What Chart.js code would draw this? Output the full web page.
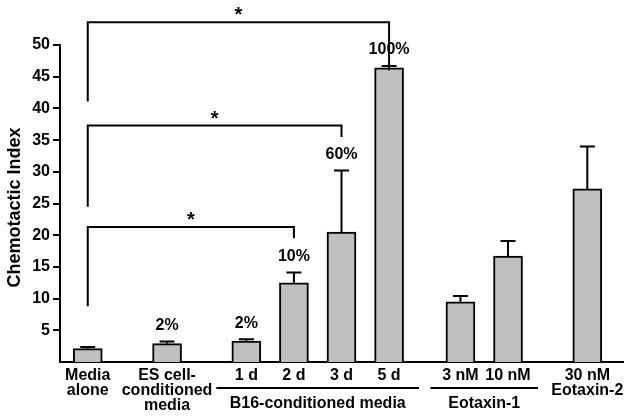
<!DOCTYPE html>
<html>
<head>
<meta charset="utf-8">
<script src="https://cdn.jsdelivr.net/npm/chart.js@4"></script>
<style>
  html, body { margin: 0; padding: 0; background: #fff; }
</style>
</head>
<body>
<canvas id="myChart" width="634" height="420"></canvas>
<script>
// Chemotactic index per condition (mean + upper error)
const conditions = [['Media', 'alone'], ['ES cell-', 'conditioned', 'media'], '1 d', '2 d', '3 d', '5 d',
  '3 nM', '10 nM', ['30 nM', 'Eotaxin-2']];
const chemotacticIndex = [2.1, 2.9, 3.3, 12.5, 20.5, 46.4, 9.5, 16.7, 27.3];
const errorUp = [0.25, 0.35, 0.3, 1.6, 9.7, 0.3, 0.9, 2.4, 6.7];
const percentLabels = ['', '2%', '2%', '10%', '60%', '100%', '', '', ''];
const yTicks = [5, 10, 15, 20, 25, 30, 35, 40, 45, 50];

// captions under the axis, spanning bars groupFirst..groupLast
const groupNames = ['B16-conditioned media', 'Eotaxin-1'];
const groupFirst = [2, 6];
const groupLast = [5, 7];

// significance brackets (bar indices, bracket height, where each leg stops)
const bracketFrom = [0, 0, 0];
const bracketTo = [3, 4, 5];
const bracketLevel = [21.3, 37.3, 53.6];
const bracketLeftEnd = [8.8, 24.5, 41.1];
const bracketRightEnd = [19.5, 35.5, 46.0];

// bars sit on a fine category grid so the gaps between groups come out right
const nColumns = 71;
const columnOf = [3, 13, 23, 29, 35, 41, 50, 56, 66];
const labels = new Array(nColumns).fill('');
const barData = new Array(nColumns).fill(null);
columnOf.forEach((c, i) => { labels[c] = conditions[i]; barData[c] = chemotacticIndex[i]; });

const FONT = '"Liberation Sans", Arial, Helvetica, sans-serif';
Chart.defaults.font.family = FONT;
Chart.defaults.font.weight = 'bold';
Chart.defaults.color = '#000';

const extras = {
  id: 'extras',
  afterDatasetsDraw(chart) {
    const ctx = chart.ctx;
    const y = chart.scales.y;
    const bars = chart.getDatasetMeta(0).data;
    const xOf = i => bars[columnOf[i]].x;
    ctx.save();
    ctx.strokeStyle = '#000';
    ctx.fillStyle = '#000';
    ctx.lineWidth = 2;

    // error bars + percent labels
    ctx.font = 'bold 16px ' + FONT;
    ctx.textAlign = 'center';
    ctx.textBaseline = 'middle';
    chemotacticIndex.forEach((v, i) => {
      const x = xOf(i);
      const top = y.getPixelForValue(v);
      const cap = y.getPixelForValue(v + errorUp[i]);
      ctx.beginPath();
      ctx.moveTo(x, top);
      ctx.lineTo(x, cap);
      ctx.moveTo(x - 7.5, cap);
      ctx.lineTo(x + 7.5, cap);
      ctx.stroke();
      if (percentLabels[i]) ctx.fillText(percentLabels[i], x, cap - 16);
    });

    // brackets with stars
    bracketFrom.forEach((f, k) => {
      const x1 = xOf(f), x2 = xOf(bracketTo[k]);
      const yb = y.getPixelForValue(bracketLevel[k]);
      ctx.beginPath();
      ctx.moveTo(x1, y.getPixelForValue(bracketLeftEnd[k]));
      ctx.lineTo(x1, yb);
      ctx.lineTo(x2, yb);
      ctx.lineTo(x2, y.getPixelForValue(bracketRightEnd[k]));
      ctx.stroke();
      ctx.font = 'bold 20px ' + FONT;
      ctx.textBaseline = 'alphabetic';
      ctx.fillText('*', (x1 + x2) / 2, yb - 1);
    });

    // group captions below the tick labels
    ctx.font = 'bold 16px ' + FONT;
    ctx.textBaseline = 'middle';
    groupNames.forEach((name, g) => {
      const a = xOf(groupFirst[g]), b = xOf(groupLast[g]);
      const mid = (a + b) / 2;
      const half = Math.max(ctx.measureText(name).width / 2 + 4, (b - a) / 2 + 30);
      ctx.beginPath();
      ctx.moveTo(mid - half, 388);
      ctx.lineTo(mid + half, 388);
      ctx.stroke();
      ctx.fillText(name, mid, 404);
    });

    // y axis title
    ctx.translate(15, (chart.chartArea.top + chart.chartArea.bottom) / 2 + 4);
    ctx.rotate(-Math.PI / 2);
    ctx.font = 'bold 18px ' + FONT;
    ctx.fillText('Chemotactic Index', 0, 0);
    ctx.restore();
  }
};

new Chart('myChart', {
  type: 'bar',
  data: {
    labels: labels,
    datasets: [{
      data: barData,
      backgroundColor: '#c0c0c0',
      borderColor: '#000',
      borderWidth: 2,
      barThickness: 29
    }]
  },
  options: {
    responsive: false,
    animation: false,
    layout: { padding: { top: 45, right: 11, left: 0, bottom: 0 } },
    plugins: { legend: { display: false }, tooltip: { enabled: false } },
    scales: {
      x: {
        grid: { display: true, drawOnChartArea: false, drawTicks: false },
        border: { display: true, color: '#000', width: 2 },
        ticks: {
          autoSkip: false, maxRotation: 0, minRotation: 0, padding: 6,
          font: { size: 16, weight: 'bold', lineHeight: 0.95 }
        },
        afterFit: s => { s.height = 58; }
      },
      y: {
        min: 0,
        max: 50,
        afterBuildTicks: s => { s.ticks = yTicks.map(v => ({ value: v })); },
        grid: { display: true, drawOnChartArea: false, drawTicks: true, tickLength: 7, color: '#000', lineWidth: 2 },
        border: { display: true, color: '#000', width: 2 },
        ticks: { padding: 3, font: { size: 16, weight: 'bold' } },
        afterFit: s => { s.width = 60; }
      }
    }
  },
  plugins: [extras]
});
</script>
</body>
</html>
